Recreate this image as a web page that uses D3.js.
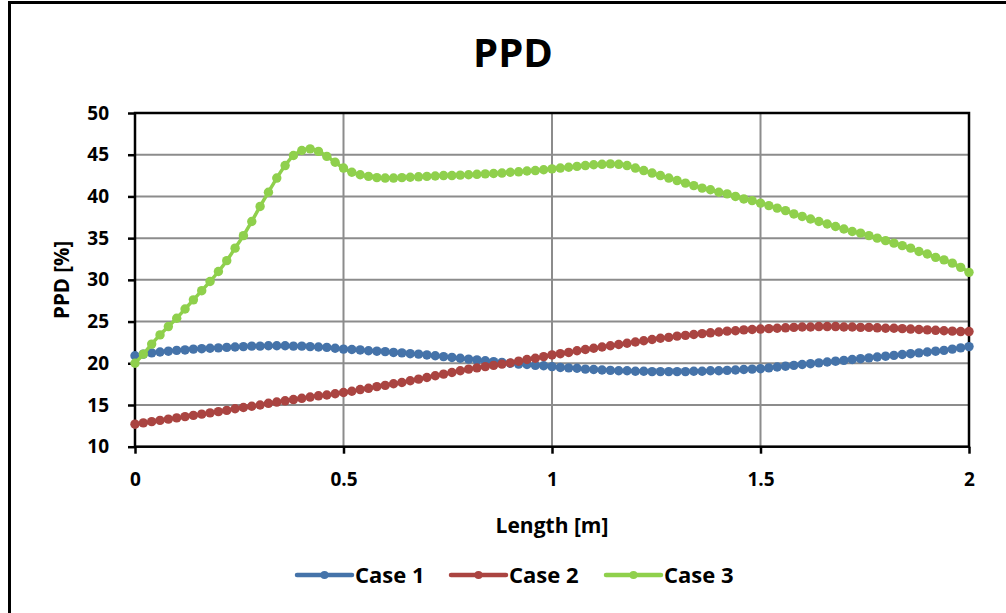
<!DOCTYPE html>
<html>
<head>
<meta charset="utf-8">
<script src="https://cdn.jsdelivr.net/npm/d3@7"></script>
<style>
  html, body { margin: 0; padding: 0; background: #fff; }
  svg { display: block; font-family: "Open Sans", Lato, sans-serif; }
</style>
</head>
<body>
<svg id="chart" width="1006" height="613"></svg>
<script>
// Position along the duct, 0 .. 2 m in 0.02 m steps
const lengths = d3.range(0, 101).map(i => +(i * 0.02).toFixed(2));

const case1 = [
  20.9, 21.1, 21.25, 21.35, 21.45, 21.55, 21.6, 21.7, 21.75, 21.8,
  21.85, 21.9, 21.95, 22.0, 22.05, 22.05, 22.1, 22.1, 22.1, 22.05,
  22.05, 22.0, 21.95, 21.9, 21.8, 21.7, 21.65, 21.6, 21.5, 21.45,
  21.4, 21.3, 21.25, 21.15, 21.1, 21.0, 20.9, 20.8, 20.7, 20.6,
  20.5, 20.4, 20.3, 20.2, 20.1, 20.0, 19.9, 19.85, 19.75, 19.7,
  19.6, 19.5, 19.45, 19.4, 19.3, 19.25, 19.2, 19.15, 19.1, 19.1,
  19.05, 19.05, 19.0, 19.0, 19.0, 19.0, 19.0, 19.05, 19.05, 19.1,
  19.1, 19.15, 19.2, 19.25, 19.3, 19.35, 19.45, 19.55, 19.65, 19.75,
  19.85, 19.95, 20.05, 20.15, 20.25, 20.35, 20.45, 20.55, 20.65, 20.75,
  20.85, 20.95, 21.05, 21.15, 21.25, 21.35, 21.45, 21.55, 21.7, 21.85,
  22.0
];

const case2 = [
  12.7, 12.85, 13.0, 13.15, 13.3, 13.45, 13.6, 13.75, 13.9, 14.05,
  14.2, 14.35, 14.55, 14.7, 14.85, 15.0, 15.2, 15.35, 15.5, 15.65,
  15.8, 15.95, 16.1, 16.2, 16.35, 16.5, 16.65, 16.85, 17.0, 17.2,
  17.35, 17.55, 17.7, 17.9, 18.1, 18.3, 18.5, 18.7, 18.9, 19.1,
  19.3, 19.45, 19.6, 19.75, 19.9, 20.05, 20.25, 20.45, 20.6, 20.8,
  21.0, 21.15, 21.3, 21.5, 21.65, 21.8, 21.95, 22.1, 22.25, 22.4,
  22.55, 22.7, 22.85, 23.0, 23.1, 23.25, 23.35, 23.45, 23.55, 23.65,
  23.75, 23.85, 23.9, 24.0, 24.05, 24.1, 24.15, 24.2, 24.25, 24.3,
  24.35, 24.35, 24.4, 24.4, 24.4, 24.35, 24.35, 24.3, 24.3, 24.25,
  24.2, 24.2, 24.15, 24.1, 24.05, 24.0, 23.95, 23.9, 23.85, 23.8,
  23.8
];

const case3 = [
  20.0, 21.1, 22.3, 23.4, 24.4, 25.4, 26.5, 27.6, 28.7, 29.8,
  31.0, 32.3, 33.8, 35.3, 37.0, 38.8, 40.5, 42.2, 43.7, 44.9,
  45.5, 45.7, 45.4, 44.8, 44.1, 43.4, 42.9, 42.6, 42.4, 42.25,
  42.2, 42.2, 42.25, 42.3, 42.35, 42.4, 42.45, 42.5, 42.5, 42.55,
  42.6, 42.65, 42.7, 42.75, 42.8, 42.9, 42.95, 43.05, 43.1, 43.2,
  43.3, 43.4, 43.5, 43.6, 43.7, 43.8, 43.85, 43.9, 43.85, 43.7,
  43.4, 43.1, 42.8, 42.5, 42.2, 41.9, 41.6, 41.3, 41.0, 40.8,
  40.5, 40.3, 40.0, 39.7, 39.5, 39.2, 38.9, 38.6, 38.3, 37.9,
  37.6, 37.3, 37.0, 36.7, 36.4, 36.1, 35.8, 35.6, 35.3, 35.0,
  34.7, 34.4, 34.1, 33.8, 33.4, 33.1, 32.7, 32.4, 32.0, 31.5,
  30.9
];

const seriesNames = ["Case 1", "Case 2", "Case 3"];
const seriesColors = ["#4573A9", "#AA4441", "#8FD04C"];
const xTicks = [0, 0.5, 1, 1.5, 2];
const xTickLabels = ["0", "0.5", "1", "1.5", "2"];
const yTicks = [10, 15, 20, 25, 30, 35, 40, 45, 50];

const series = [case1, case2, case3].map((vals, i) => ({
  name: seriesNames[i],
  color: seriesColors[i],
  points: vals.map((v, j) => ({ x: lengths[j], y: v }))
}));

const svg = d3.select("#chart");
const W = 1006, H = 613;
const plot = { left: 135, right: 969, top: 113, bottom: 446.7 };
const FONT = "'Open Sans', Lato, sans-serif";

const x = d3.scaleLinear().domain([0, 2]).range([plot.left, plot.right]);
const y = d3.scaleLinear().domain([10, 50]).range([plot.bottom, plot.top]);

// outer chart frame (left and top edges visible)
svg.append("line").attr("x1", 9.5).attr("x2", 9.5).attr("y1", 1).attr("y2", H)
  .attr("stroke", "#000").attr("stroke-width", 3);
svg.append("line").attr("x1", 8).attr("x2", W).attr("y1", 2.5).attr("y2", 2.5)
  .attr("stroke", "#000").attr("stroke-width", 3);

// title
svg.append("text").attr("x", 513).attr("y", 67).attr("text-anchor", "middle")
  .attr("font-weight", 700).attr("font-size", 40).text("PPD");

// gridlines
const grid = svg.append("g");
grid.selectAll("line.h").data(yTicks).join("line")
  .attr("x1", plot.left).attr("x2", plot.right)
  .attr("y1", d => y(d)).attr("y2", d => y(d))
  .attr("stroke", "#8c8c8c").attr("stroke-width", 2);
grid.selectAll("line.v").data(xTicks).join("line")
  .attr("y1", plot.top).attr("y2", plot.bottom)
  .attr("x1", d => x(d)).attr("x2", d => x(d))
  .attr("stroke", "#8c8c8c").attr("stroke-width", 2);

// axes
const xAxis = d3.axisBottom(x).tickValues(xTicks)
  .tickFormat((d, i) => xTickLabels[i]).tickSize(7).tickPadding(19);
const yAxis = d3.axisLeft(y).tickValues(yTicks).tickSize(7).tickPadding(19);

const gx = svg.append("g").attr("transform", `translate(0,${plot.bottom})`).call(xAxis);
const gy = svg.append("g").attr("transform", `translate(${plot.left},0)`).call(yAxis);
[gx, gy].forEach(g => {
  g.select(".domain").remove();
  g.selectAll(".tick line").attr("stroke", "#000").attr("stroke-width", 2.5);
  g.selectAll(".tick text").attr("font-family", FONT)
    .attr("font-weight", 700).attr("font-size", 19).attr("fill", "#000");
});

// plot frame
svg.append("rect").attr("x", plot.left).attr("y", plot.top)
  .attr("width", plot.right - plot.left).attr("height", plot.bottom - plot.top)
  .attr("fill", "none").attr("stroke", "#000").attr("stroke-width", 2.5);

// axis titles
svg.append("text").attr("x", 552).attr("y", 533)
  .attr("text-anchor", "middle").attr("font-weight", 700).attr("font-size", 21)
  .text("Length [m]");
svg.append("text")
  .attr("transform", `translate(69,${(plot.top + plot.bottom) / 2}) rotate(-90)`)
  .attr("text-anchor", "middle").attr("font-weight", 700).attr("font-size", 20.5)
  .text("PPD [%]");

// series lines with markers
const line = d3.line().x(d => x(d.x)).y(d => y(d.y)).curve(d3.curveMonotoneX);
const gs = svg.append("g").selectAll("g").data(series).join("g");
gs.append("path").attr("d", d => line(d.points))
  .attr("fill", "none").attr("stroke", d => d.color).attr("stroke-width", 3.5);
gs.each(function (s) {
  d3.select(this).selectAll("circle").data(s.points).join("circle")
    .attr("cx", d => x(d.x)).attr("cy", d => y(d.y)).attr("r", 4.7)
    .attr("fill", s.color);
});

// legend
const legendX = [297, 451, 606];
const lg = svg.append("g").selectAll("g").data(series).join("g")
  .attr("transform", (d, i) => `translate(${legendX[i]},575)`);
lg.append("line").attr("x1", 0).attr("x2", 55).attr("y1", 0).attr("y2", 0)
  .attr("stroke", d => d.color).attr("stroke-width", 4.5).attr("stroke-linecap", "round");
lg.append("circle").attr("cx", 27.5).attr("cy", 0).attr("r", 4).attr("fill", d => d.color);
lg.append("text").attr("x", 58).attr("y", 8).attr("font-weight", 700)
  .attr("font-size", 22).text(d => d.name);
</script>
</body>
</html>
